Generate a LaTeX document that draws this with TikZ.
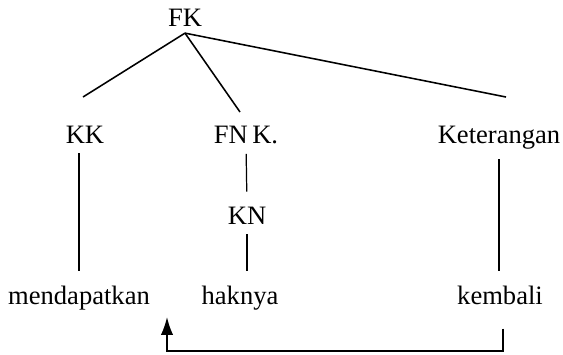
\documentclass[tikz,border=0pt]{standalone}
\usepackage{fontspec}
\setmainfont{Liberation Serif}
\usetikzlibrary{arrows.meta,positioning}

\begin{document}
\begin{tikzpicture}
  [x=0.45bp,y=-0.45bp,every node/.style={inner sep=0pt,anchor=base,font=\fontsize{12}{14}\selectfont},
   branch/.style={line width=0.7bp},
   stem/.style={line width=0.55bp,shorten <=4.5bp,shorten >=6.5bp},
   backarrow/.style={line width=0.7bp,shorten <=10.8bp,-{Latex[length=8bp,width=5.5bp]}}]
  \useasboundingbox (0,0) rectangle (563,354);

  \node (fk) at (185,26) {FK};
  \node (kk) at (85,143) {KK};
  \node (fnk) at (246,143) {FN\,K.};
  \node (ket) at (499,143) {Keterangan};
  \node (kn) at (247,224) {KN};
  \node (md) at (79,304) {mendapatkan};
  \node (hk) at (240,304) {haknya};
  \node (kb) at (500,304) {kembali};

\coordinate (apex) at ([yshift=-3bp]fk.south);
\coordinate (kkend) at (83,97);
\coordinate (fnkend) at (240,112);
\coordinate (ketend) at (506,97);
\coordinate (turn) at (167,351);
\coordinate (tip) at (167,317);

\draw[branch] (apex) -- (kkend);
\draw[branch] (apex) -- (fnkend);
\draw[branch] (apex) -- (ketend);

\draw[stem] (kk.south -| md.north) -- (md.north);
\draw[stem] (fnk.south) -- (kn.north);
\draw[stem] (kn.south) -- (kn.south |- hk.north);
\draw[stem] (ket.south) -- (ket.south |- kb.north);

\draw[backarrow] ([xshift=1.3bp]kb.south) |- (turn) -- (tip);
\end{tikzpicture}
\end{document}
